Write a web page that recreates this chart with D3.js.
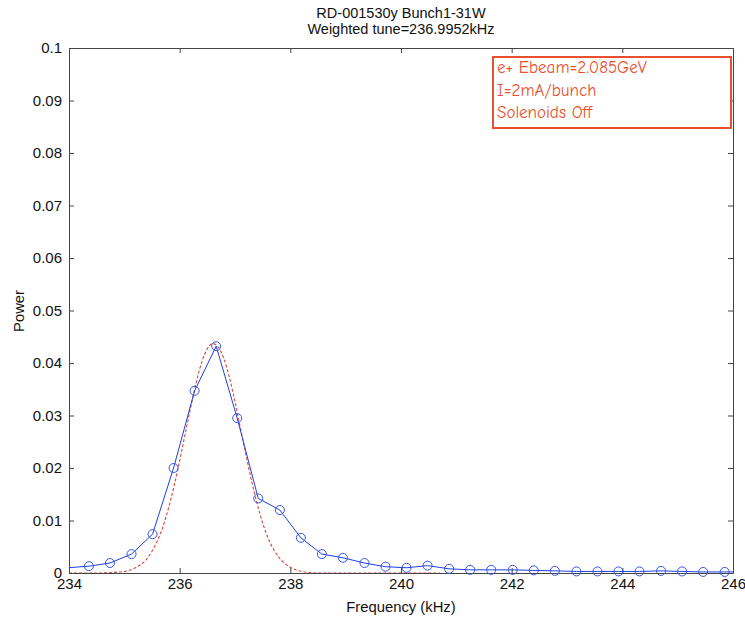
<!DOCTYPE html>
<html>
<head>
<meta charset="utf-8">
<script src="https://cdn.jsdelivr.net/npm/d3@7"></script>
<style>
  body { margin: 0; background: #fff; }
  text { font-family: "Liberation Sans", Arial, Helvetica, sans-serif; }
</style>
</head>
<body>
<div id="chart"></div>
<script>
// measured spectrum (blue, circles)
var freq = [233.98, 234.36, 234.74, 235.13, 235.51, 235.89, 236.27, 236.66, 237.04, 237.42, 237.81,
            238.19, 238.57, 238.95, 239.34, 239.72, 240.10, 240.48, 240.87, 241.25, 241.63,
            242.02, 242.40, 242.78, 243.17, 243.55, 243.93, 244.31, 244.70, 245.08, 245.46, 245.85, 246.23];
var power = [0.0010, 0.0013, 0.0019, 0.0036, 0.0074, 0.0200, 0.0347, 0.0432, 0.0295, 0.0142, 0.0120,
             0.0067, 0.0036, 0.0029, 0.0019, 0.0012, 0.0010, 0.0014, 0.0008, 0.0006, 0.0006,
             0.0006, 0.0005, 0.0004, 0.0003, 0.0003, 0.0003, 0.0003, 0.0004, 0.0003, 0.0002, 0.0002, 0.0002];

// fitted curve (red dashed)
var fitFreq = [234.0, 234.5, 235.0, 235.2, 235.4, 235.6, 235.7, 235.8, 235.9, 236.0, 236.1, 236.2, 236.3,
               236.4, 236.5, 236.6, 236.7, 236.8, 236.9, 237.0, 237.1, 237.2, 237.3, 237.4, 237.5,
               237.6, 237.8, 238.0, 238.2, 238.5, 239.0, 240.7];
var fitPower = [0, 0, 0.0003, 0.0010, 0.0026, 0.0062, 0.0089, 0.0124, 0.0166, 0.0214, 0.0265, 0.0316, 0.0363,
                0.0402, 0.0427, 0.0437, 0.0430, 0.0408, 0.0372, 0.0326, 0.0275, 0.0224, 0.0175, 0.0132, 0.0095,
                0.0066, 0.0029, 0.0011, 0.0003, 0.0000, 0, 0];

var xTicks = [234, 236, 238, 240, 242, 244, 246];
var yTicks = [0, 0.01, 0.02, 0.03, 0.04, 0.05, 0.06, 0.07, 0.08, 0.09, 0.1];
var titleLines = ["RD-001530y Bunch1-31W", "Weighted tune=236.9952kHz"];
var noteLines = ["e+ Ebeam=2.085GeV", "I=2mA/bunch", "Solenoids Off"];

var W = 745, H = 620;
var pLeft = 69, pRight = 733, pTop = 48, pBottom = 573;

var svg = d3.select("#chart").append("svg")
    .attr("width", W)
    .attr("height", H);

var x = d3.scaleLinear().domain([234, 246]).range([pLeft, pRight]);
var y = d3.scaleLinear().domain([0, 0.1]).range([pBottom, pTop]);

svg.append("clipPath").attr("id", "plotclip")
  .append("rect")
    .attr("x", pLeft).attr("y", pTop)
    .attr("width", pRight - pLeft).attr("height", pBottom - pTop);

// axes with inward ticks
var fmtY = function(d){ return d === 0 ? "0" : String(+d.toFixed(2)); };

var gx = svg.append("g")
    .attr("transform", "translate(0," + pBottom + ")")
    .call(d3.axisBottom(x).tickValues(xTicks).tickSizeInner(-5).tickSizeOuter(0).tickPadding(5).tickFormat(d3.format("d")));
var gxt = svg.append("g")
    .attr("transform", "translate(0," + pTop + ")")
    .call(d3.axisTop(x).tickValues(xTicks).tickSizeInner(-5).tickSizeOuter(0).tickFormat(""));
var gy = svg.append("g")
    .attr("transform", "translate(" + pLeft + ",0)")
    .call(d3.axisLeft(y).tickValues(yTicks).tickSizeInner(-5).tickSizeOuter(0).tickPadding(7).tickFormat(fmtY));
var gyr = svg.append("g")
    .attr("transform", "translate(" + pRight + ",0)")
    .call(d3.axisRight(y).tickValues(yTicks).tickSizeInner(-5).tickSizeOuter(0).tickFormat(""));

[gx, gxt, gy, gyr].forEach(function(g){
    g.select(".domain").attr("stroke", "#444");
    g.selectAll(".tick line").attr("stroke", "#444");
    g.selectAll("text").attr("font-size", 15).attr("fill", "#111")
        .style("font-family", "'Liberation Sans', Arial, sans-serif");
});

// fit curve
var fitData = fitFreq.map(function(f, i){ return [f, fitPower[i]]; });
svg.append("path")
    .datum(fitData)
    .attr("clip-path", "url(#plotclip)")
    .attr("fill", "none")
    .attr("stroke", "#d9443a")
    .attr("stroke-width", 1.1)
    .attr("stroke-dasharray", "3,2")
    .attr("d", d3.line().curve(d3.curveMonotoneX)
        .x(function(d){ return x(d[0]); })
        .y(function(d){ return y(d[1]); }));

// measured line + circles
var data = freq.map(function(f, i){ return [f, power[i]]; });
svg.append("path")
    .datum(data)
    .attr("clip-path", "url(#plotclip)")
    .attr("fill", "none")
    .attr("stroke", "#1f3fe0")
    .attr("stroke-width", 1)
    .attr("d", d3.line()
        .x(function(d){ return x(d[0]); })
        .y(function(d){ return y(d[1]); }));

svg.selectAll("circle.pt")
    .data(data.filter(function(d){ return d[0] >= 234 && d[0] <= 246; }))
    .enter()
    .append("circle")
    .attr("class", "pt")
    .attr("cx", function(d){ return x(d[0]); })
    .attr("cy", function(d){ return y(d[1]); })
    .attr("r", 4.5)
    .attr("fill", "none")
    .attr("stroke", "#3355e8")
    .attr("stroke-width", 1);

// title
svg.selectAll("text.title")
    .data(titleLines)
    .enter()
    .append("text")
    .attr("class", "title")
    .attr("x", (pLeft + pRight) / 2)
    .attr("y", function(d, i){ return 18 + i * 16; })
    .attr("text-anchor", "middle")
    .attr("font-size", 14.5)
    .attr("fill", "#111")
    .text(function(d){ return d; });

// axis labels
svg.append("text")
    .attr("x", (pLeft + pRight) / 2)
    .attr("y", 612)
    .attr("text-anchor", "middle")
    .attr("font-size", 14.8)
    .attr("fill", "#111")
    .text("Frequency (kHz)");

svg.append("text")
    .attr("transform", "translate(24,311) rotate(-90)")
    .attr("text-anchor", "middle")
    .attr("font-size", 14.8)
    .attr("fill", "#111")
    .text("Power");

// annotation box
var note = svg.append("g");
note.append("rect")
    .attr("x", 493).attr("y", 57)
    .attr("width", 238).attr("height", 71)
    .attr("fill", "#fff")
    .attr("stroke", "#e8502e")
    .attr("stroke-width", 2);
note.selectAll("text")
    .data(noteLines)
    .enter()
    .append("text")
    .attr("x", 497)
    .attr("y", function(d, i){ return 73 + i * 22.5; })
    .attr("font-size", 17)
    .attr("fill", "#e8502e")
    .style("font-family", "'Comic Sans MS', 'Comic Neue', 'DejaVu Sans', sans-serif")
    .text(function(d){ return d; });
</script>
</body>
</html>
